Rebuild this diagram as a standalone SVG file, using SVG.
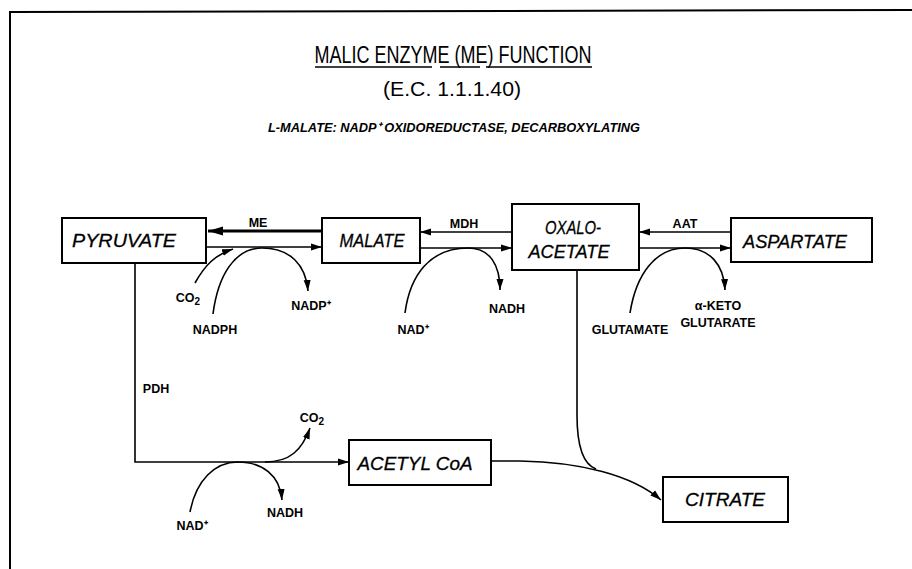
<svg xmlns="http://www.w3.org/2000/svg" width="912" height="569" viewBox="0 0 912 569">
<defs>
<marker id="ah" markerUnits="userSpaceOnUse" markerWidth="12" markerHeight="10" refX="11" refY="5" orient="auto">
<path d="M0,1.5 L11,5 L0,8.5 Z" fill="#000"/>
</marker>
<marker id="ahb" markerUnits="userSpaceOnUse" markerWidth="16" markerHeight="12" refX="15" refY="6" orient="auto">
<path d="M0,1.5 L15,6 L0,10.5 Z" fill="#000"/>
</marker>
</defs>
<style>
.box{fill:#fff;stroke:#000;stroke-width:2}
.node{font-family:"Liberation Sans",Arial,sans-serif;font-style:italic;font-size:19px;text-anchor:middle;fill:#000;stroke:#000;stroke-width:0.3}
.lbl{font-family:"Liberation Sans",Arial,sans-serif;font-size:12.5px;font-weight:bold;text-anchor:middle;fill:#000}
.ttl{font-family:"Liberation Sans",Arial,sans-serif;text-anchor:middle;fill:#000}
.ln{fill:none;stroke:#000;stroke-width:1.6}
.lnb{fill:none;stroke:#000;stroke-width:3}
</style>
<rect width="912" height="569" fill="#fff"/>
<g id="frame">
<path d="M10,569 L10,12 L912,10" fill="none" stroke="#000" stroke-width="2"/>
</g>
<g id="title">
<text class="ttl" x="453" y="63" font-size="23" textLength="277" lengthAdjust="spacingAndGlyphs">MALIC ENZYME (ME) FUNCTION</text>
<path d="M315,67 H432 M440,67 H480 M486,67 H592" stroke="#000" stroke-width="1.5"/>
<text class="ttl" x="452" y="96" font-size="20" textLength="138" lengthAdjust="spacingAndGlyphs">(E.C. 1.1.1.40)</text>
<text class="ttl" x="454" y="132" font-size="13" font-style="italic" font-weight="bold" textLength="372" lengthAdjust="spacingAndGlyphs">L-MALATE: NADP⁺ OXIDOREDUCTASE, DECARBOXYLATING</text>
</g>
<g id="connectors">
<path class="lnb" d="M322,231 H208" marker-end="url(#ahb)"/>
<path class="ln" d="M206,247 H322" marker-end="url(#ah)"/>
<path class="ln" d="M195,283 C205,265 215,255 233,249" marker-end="url(#ah)"/>
<path class="ln" d="M213,314 C218,275 235,248 262,248 C290,248 306,265 308,291" marker-end="url(#ah)"/>
<path class="ln" d="M512,232 H420" marker-end="url(#ah)"/>
<path class="ln" d="M420,248 H512" marker-end="url(#ah)"/>
<path class="ln" d="M405,313 C410,275 430,248 468,248 C490,248 500,265 500,290" marker-end="url(#ah)"/>
<path class="ln" d="M731,232 H639" marker-end="url(#ah)"/>
<path class="ln" d="M639,248 H731" marker-end="url(#ah)"/>
<path class="ln" d="M630,313 C636,275 655,248 685,248 C710,248 724,265 725,290" marker-end="url(#ah)"/>
<path class="ln" d="M135,263 V462 H349" marker-end="url(#ah)"/>
<path class="ln" d="M265,462 C290,462 302,450 310,428" marker-end="url(#ah)"/>
<path class="ln" d="M190,512 C196,480 215,462 238,462 C262,462 280,475 282,500" marker-end="url(#ah)"/>
<path class="ln" d="M491,461 H520 C580,462 632,475 661,500" marker-end="url(#ah)"/>
<path class="ln" d="M577,270 V415 C577,450 585,465 596,469"/>
</g>
<g id="pyruvate"><rect class="box" x="62" y="218" width="144" height="45"/><text class="node" x="124" y="247" textLength="104" lengthAdjust="spacingAndGlyphs">PYRUVATE</text></g>
<g id="malate"><rect class="box" x="322" y="218" width="98" height="45"/><text class="node" x="372" y="247" textLength="65" lengthAdjust="spacingAndGlyphs">MALATE</text></g>
<g id="oxaloacetate"><rect class="box" x="512" y="204" width="127" height="66"/><text class="node" x="573" y="234" textLength="56" lengthAdjust="spacingAndGlyphs">OXALO-</text><text class="node" x="569" y="258" textLength="81" lengthAdjust="spacingAndGlyphs">ACETATE</text></g>
<g id="aspartate"><rect class="box" x="731" y="218" width="141" height="44"/><text class="node" x="795" y="248" textLength="104" lengthAdjust="spacingAndGlyphs">ASPARTATE</text></g>
<g id="acetylcoa"><rect class="box" x="349" y="440" width="142" height="45"/><text class="node" x="415" y="470" textLength="115" lengthAdjust="spacingAndGlyphs">ACETYL CoA</text></g>
<g id="citrate"><rect class="box" x="663" y="477" width="125" height="45"/><text class="node" x="725" y="506" textLength="80" lengthAdjust="spacingAndGlyphs">CITRATE</text></g>
<g id="labels">
<text class="lbl" x="258" y="227">ME</text>
<text class="lbl" x="464" y="228">MDH</text>
<text class="lbl" x="685" y="228">AAT</text>
<text class="lbl" x="188" y="302">CO<tspan font-size="10" dy="3">2</tspan></text>
<text class="lbl" x="215" y="334">NADPH</text>
<text class="lbl" x="311" y="310">NADP⁺</text>
<text class="lbl" x="413" y="334">NAD⁺</text>
<text class="lbl" x="507" y="313">NADH</text>
<text class="lbl" x="630" y="334">GLUTAMATE</text>
<text class="lbl" x="718" y="310" text-anchor="start">α-KETO</text>
<text class="lbl" x="718" y="327" text-anchor="start">GLUTARATE</text>
<text class="lbl" x="156" y="393">PDH</text>
<text class="lbl" x="312" y="422">CO<tspan font-size="10" dy="3">2</tspan></text>
<text class="lbl" x="285" y="517">NADH</text>
<text class="lbl" x="192" y="530">NAD⁺</text>
</g>
</svg>
